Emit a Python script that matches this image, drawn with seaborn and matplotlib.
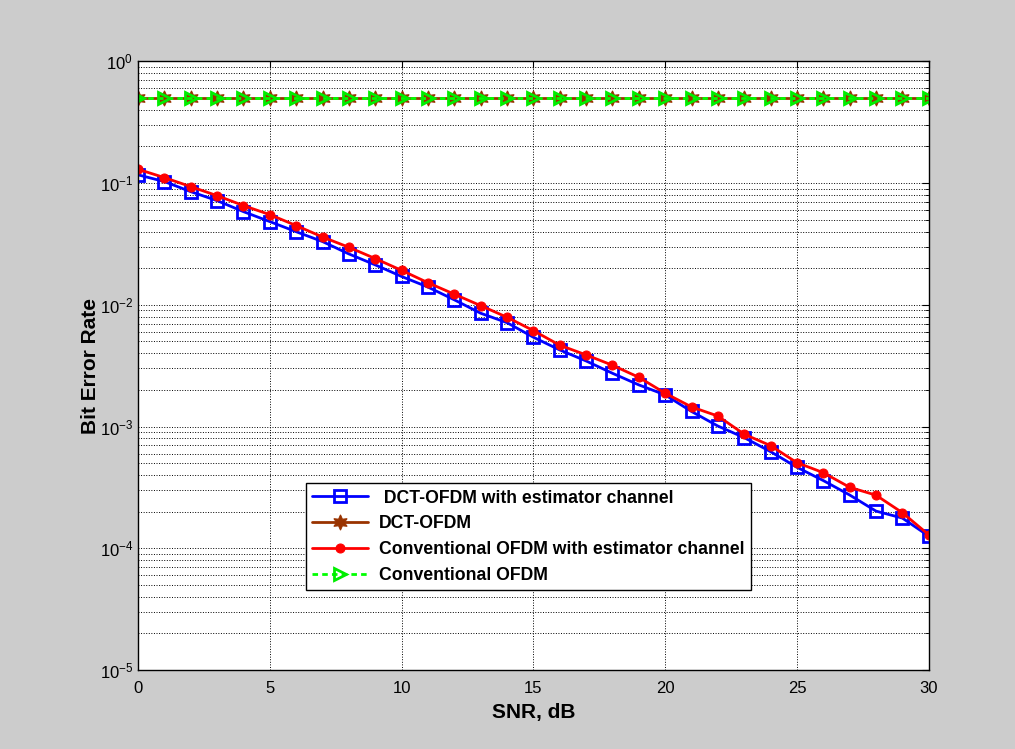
import numpy as np
import pandas as pd
import matplotlib
matplotlib.use("Agg")
import matplotlib.pyplot as plt
import seaborn as sns
from matplotlib.ticker import LogLocator, NullFormatter

# SNR axis (dB)
snr = list(range(0, 31))

# BER values
ber_dct_est = [0.117, 0.103, 0.0851, 0.0718, 0.0583, 0.0483, 0.0399, 0.0331, 0.0262, 0.0213,
               0.0171, 0.0140, 0.0110, 0.00853, 0.00714, 0.00542, 0.00426, 0.00346, 0.00274, 0.00220,
               0.00182, 0.00133, 0.00101, 0.000811, 0.000622, 0.000463, 0.000360, 0.000274, 0.000202, 0.000177,
               0.000126]
ber_dct = [0.5, 0.5, 0.5, 0.5, 0.5, 0.5, 0.5, 0.5, 0.5, 0.5,
           0.5, 0.5, 0.5, 0.5, 0.5, 0.5, 0.5, 0.5, 0.5, 0.5,
           0.5, 0.5, 0.5, 0.5, 0.5, 0.5, 0.5, 0.5, 0.5, 0.5, 0.5]
ber_conv_est = [0.130, 0.111, 0.0936, 0.0789, 0.0654, 0.0551, 0.0448, 0.0361, 0.0297, 0.0240,
                0.0192, 0.0152, 0.01223, 0.00985, 0.00791, 0.00614, 0.00466, 0.00388, 0.00319, 0.00254,
                0.00188, 0.00145, 0.00122, 0.000865, 0.000697, 0.000505, 0.000418, 0.000317, 0.000273, 0.000196,
                0.000129]
ber_conv = [0.5, 0.5, 0.5, 0.5, 0.5, 0.5, 0.5, 0.5, 0.5, 0.5,
            0.5, 0.5, 0.5, 0.5, 0.5, 0.5, 0.5, 0.5, 0.5, 0.5,
            0.5, 0.5, 0.5, 0.5, 0.5, 0.5, 0.5, 0.5, 0.5, 0.5, 0.5]

labels = [' DCT-OFDM with estimator channel', 'DCT-OFDM',
          'Conventional OFDM with estimator channel', 'Conventional OFDM']

sns.set_style("white")
plt.rcParams['font.family'] = ['Liberation Sans', 'DejaVu Sans']
plt.rcParams['mathtext.default'] = 'regular'
plt.rcParams['text.color'] = 'black'
plt.rcParams['axes.labelcolor'] = 'black'
plt.rcParams['xtick.color'] = 'black'
plt.rcParams['ytick.color'] = 'black'

fig = plt.figure(figsize=(10.15, 7.49), dpi=100, facecolor='#cccccc')
ax = fig.add_axes([0.136, 0.1055, 0.779, 0.8125])
ax.set_facecolor('white')

sns.lineplot(x=snr, y=ber_dct_est, ax=ax, color='#0000ff', lw=2, marker='s', ms=8.5,
             mfc='none', mec='#0000ff', mew=2, label=labels[0])
sns.lineplot(x=snr, y=ber_dct, ax=ax, color='#993300', lw=2, marker=(6, 1, 0), ms=11,
             mfc='#993300', mec='#993300', label=labels[1])
sns.lineplot(x=snr, y=ber_conv_est, ax=ax, color='#ff0000', lw=2, marker='o', ms=6.5,
             mfc='#ff0000', mec='#ff0000', label=labels[2])
sns.lineplot(x=snr, y=ber_conv, ax=ax, color='#00ff00', lw=2, ls='--', marker='>', ms=9,
             mfc='none', mec='#00ee00', mew=2, label=labels[3])
ax.lines[-1].set_dashes([2, 1.5])

ax.set_yscale('log')
ax.set_xlim(0, 30)
ax.set_ylim(1e-5, 1)
ax.set_xticks([0, 5, 10, 15, 20, 25, 30])
ax.yaxis.set_major_locator(LogLocator(base=10, numticks=10))
ax.yaxis.set_minor_locator(LogLocator(base=10, subs=np.arange(2, 10), numticks=20))
ax.yaxis.set_minor_formatter(NullFormatter())

ax.grid(True, which='major', color='black', ls=':', lw=0.7)
ax.grid(True, which='minor', axis='y', color='black', ls=':', lw=0.7)
ax.tick_params(which='both', direction='in', top=True, right=True, labelsize=12)
ax.tick_params(axis='x', which='major', pad=8)
ax.tick_params(which='major', length=5)
ax.tick_params(which='minor', length=3)
for s in ax.spines.values():
    s.set_color('black')
    s.set_linewidth(1)

ax.set_xlabel('SNR, dB', fontsize=15, fontweight='bold', labelpad=5)
ax.set_ylabel('Bit Error Rate', fontsize=15, fontweight='bold', labelpad=0)

leg = ax.legend(loc='lower left', bbox_to_anchor=(0.212, 0.131),
                prop={'weight': 'bold', 'size': 12.7}, frameon=True, fancybox=False,
                edgecolor='black', framealpha=1, handlelength=3.2, handletextpad=0.6,
                labelspacing=0.5, borderpad=0.35, borderaxespad=0)
leg.get_frame().set_linewidth(1)

fig.savefig('out.png', dpi=100, facecolor=fig.get_facecolor())
